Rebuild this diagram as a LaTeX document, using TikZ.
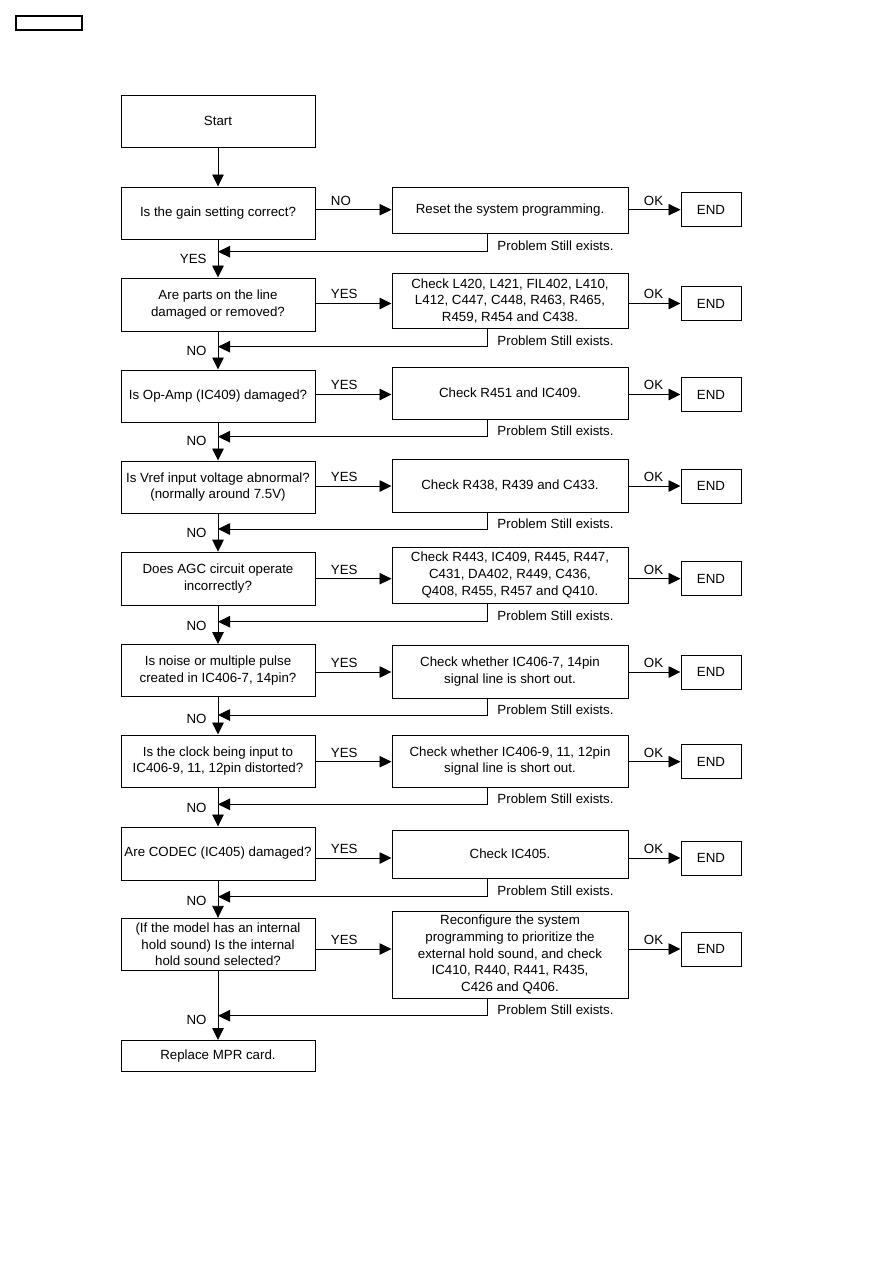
\documentclass[tikz,border=0pt]{standalone}
\usepackage{fontspec}
\setmainfont{Liberation Sans}
\usetikzlibrary{arrows.meta}
\tikzset{
  box/.style={draw,line width=1pt,align=center,inner sep=2pt,font=\fontsize{13.3}{16.7}\selectfont},
  qbox/.style={box,minimum width=194pt},
  cbox/.style={box,minimum width=236pt},
  endbox/.style={box,minimum width=60pt,minimum height=34pt},
  flow/.style={line width=.9pt,-{Triangle[length=12pt,width=11.5pt]}},
  lbl/.style={inner sep=0pt,font=\fontsize{13.3}{16.7}\selectfont},
  hlbl/.style={lbl,anchor=south west,xshift=15pt,yshift=4pt},
  vlbl/.style={lbl,anchor=east,xshift=-11pt,yshift=-4pt},
  plbl/.style={lbl,anchor=base west,xshift=10pt,yshift=1pt}
}
\begin{document}
\begin{tikzpicture}[x=1pt,y=-1pt]
\useasboundingbox (0,0) rectangle (893,1263);
\node[draw,line width=1.3pt,minimum width=66pt,minimum height=14pt,inner sep=0pt] (tag) at (49,23) {};
% questions, left column
\node[qbox,minimum height=52pt] (start) at (218,121) {Start};
\node[qbox,minimum height=52pt] (q1) at (218,213) {Is the gain setting correct?};
\node[qbox,minimum height=53pt] (q2) at (218,304.5) {Are parts on the line\\damaged or removed?};
\node[qbox,minimum height=52pt] (q3) at (218,396) {Is Op-Amp (IC409) damaged?};
\node[qbox,minimum height=52pt] (q4) at (218,487) {Is Vref input voltage abnormal?\\(normally around 7.5V)};
\node[qbox,minimum height=53pt] (q5) at (218,578.7) {Does AGC circuit operate\\incorrectly?};
\node[qbox,minimum height=52pt] (q6) at (218,670.5) {Is noise or multiple pulse\\created in IC406-7, 14pin?};
\node[qbox,minimum height=52pt] (q7) at (218,761) {Is the clock being input to\\IC406-9, 11, 12pin distorted?};
\node[qbox,minimum height=53pt] (q8) at (218,853.5) {Are CODEC (IC405) damaged?};
\node[qbox,minimum height=52pt] (q9) at (218,944.3) {(If the model has an internal\\hold sound) Is the internal\\hold sound selected?};
\node[qbox,minimum height=31pt] (mpr) at (218,1056) {Replace MPR card.};
% checks, middle column
\node[cbox,minimum height=46pt] (m1) at (510,210) {Reset the system programming.};
\node[cbox,minimum height=55pt] (m2) at (510,301) {Check L420, L421, FIL402, L410,\\L412, C447, C448, R463, R465,\\R459, R454 and C438.};
\node[cbox,minimum height=52pt] (m3) at (510,393) {Check R451 and IC409.};
\node[cbox,minimum height=53pt] (m4) at (510,485.5) {Check R438, R439 and C433.};
\node[cbox,minimum height=56pt] (m5) at (510,575) {Check R443, IC409, R445, R447,\\C431, DA402, R449, C436,\\Q408, R455, R457 and Q410.};
\node[cbox,minimum height=53pt] (m6) at (510,671.5) {Check whether IC406-7, 14pin\\signal line is short out.};
\node[cbox,minimum height=52pt] (m7) at (510,761) {Check whether IC406-9, 11, 12pin\\signal line is short out.};
\node[cbox,minimum height=48pt] (m8) at (510,854) {Check IC405.};
\node[cbox,minimum height=87pt] (m9) at (510,954.5) {Reconfigure the system\\programming to prioritize the\\external hold sound, and check\\IC410, R440, R441, R435,\\C426 and Q406.};
% end boxes
\node[endbox] (e1) at (711,209.7) {END}; \node[endbox] (e2) at (711,303.5) {END};
\node[endbox] (e3) at (711,394.5) {END}; \node[endbox] (e4) at (711,486) {END};
\node[endbox] (e5) at (711,578.7) {END}; \node[endbox] (e6) at (711,672) {END};
\node[endbox] (e7) at (711,761.7) {END}; \node[endbox] (e8) at (711,858) {END};
\node[endbox] (e9) at (711,949) {END};
% main spine
\draw[flow] (start) -- (q1); \draw[flow] (q1) -- (q2); \draw[flow] (q2) -- (q3);
\draw[flow] (q3) -- (q4); \draw[flow] (q4) -- (q5); \draw[flow] (q5) -- (q6);
\draw[flow] (q6) -- (q7); \draw[flow] (q7) -- (q8); \draw[flow] (q8) -- (q9);
\draw[flow] (q9) -- (mpr);
% branches to the right
\draw[flow] (e1.west -| q1.east) node[hlbl]{NO} -- (e1.west -| m1.west);
\draw[flow] (e2.west -| q2.east) node[hlbl]{YES} -- (e2.west -| m2.west);
\draw[flow] (e3.west -| q3.east) node[hlbl]{YES} -- (e3.west -| m3.west);
\draw[flow] (e4.west -| q4.east) node[hlbl]{YES} -- (e4.west -| m4.west);
\draw[flow] (e5.west -| q5.east) node[hlbl]{YES} -- (e5.west -| m5.west);
\draw[flow] (e6.west -| q6.east) node[hlbl]{YES} -- (e6.west -| m6.west);
\draw[flow] (e7.west -| q7.east) node[hlbl]{YES} -- (e7.west -| m7.west);
\draw[flow] (e8.west -| q8.east) node[hlbl]{YES} -- (e8.west -| m8.west);
\draw[flow] (e9.west -| q9.east) node[hlbl]{YES} -- (e9.west -| m9.west);
\draw[flow] (m1.east |- e1.west) node[hlbl]{OK} -- (e1); \draw[flow] (m2.east |- e2.west) node[hlbl]{OK} -- (e2);
\draw[flow] (m3.east |- e3.west) node[hlbl]{OK} -- (e3); \draw[flow] (m4.east |- e4.west) node[hlbl]{OK} -- (e4);
\draw[flow] (m5.east |- e5.west) node[hlbl]{OK} -- (e5); \draw[flow] (m6.east |- e6.west) node[hlbl]{OK} -- (e6);
\draw[flow] (m7.east |- e7.west) node[hlbl]{OK} -- (e7); \draw[flow] (m8.east |- e8.west) node[hlbl]{OK} -- (e8);
\draw[flow] (m9.east |- e9.west) node[hlbl]{OK} -- (e9);
% returns
\coordinate (r1) at (487,251.7); \coordinate (r2) at (487,346.7); \coordinate (r3) at (487,436.7);
\coordinate (r4) at (487,529); \coordinate (r5) at (487,621.7); \coordinate (r6) at (487,715);
\coordinate (r7) at (487,804.3); \coordinate (r8) at (487,896.7); \coordinate (r9) at (487,1015.7);
\draw[flow] (m1.south -| r1) -- (r1) node[plbl]{Problem Still exists.} -- (r1 -| q1.south) node[vlbl,yshift=-3pt]{YES};
\draw[flow] (m2.south -| r2) -- (r2) node[plbl]{Problem Still exists.} -- (r2 -| q2.south) node[vlbl]{NO};
\draw[flow] (m3.south -| r3) -- (r3) node[plbl]{Problem Still exists.} -- (r3 -| q3.south) node[vlbl]{NO};
\draw[flow] (m4.south -| r4) -- (r4) node[plbl]{Problem Still exists.} -- (r4 -| q4.south) node[vlbl]{NO};
\draw[flow] (m5.south -| r5) -- (r5) node[plbl]{Problem Still exists.} -- (r5 -| q5.south) node[vlbl]{NO};
\draw[flow] (m6.south -| r6) -- (r6) node[plbl]{Problem Still exists.} -- (r6 -| q6.south) node[vlbl]{NO};
\draw[flow] (m7.south -| r7) -- (r7) node[plbl]{Problem Still exists.} -- (r7 -| q7.south) node[vlbl]{NO};
\draw[flow] (m8.south -| r8) -- (r8) node[plbl]{Problem Still exists.} -- (r8 -| q8.south) node[vlbl]{NO};
\draw[flow] (m9.south -| r9) -- (r9) node[plbl]{Problem Still exists.} -- (r9 -| q9.south) node[vlbl]{NO};
\end{tikzpicture}
\end{document}
